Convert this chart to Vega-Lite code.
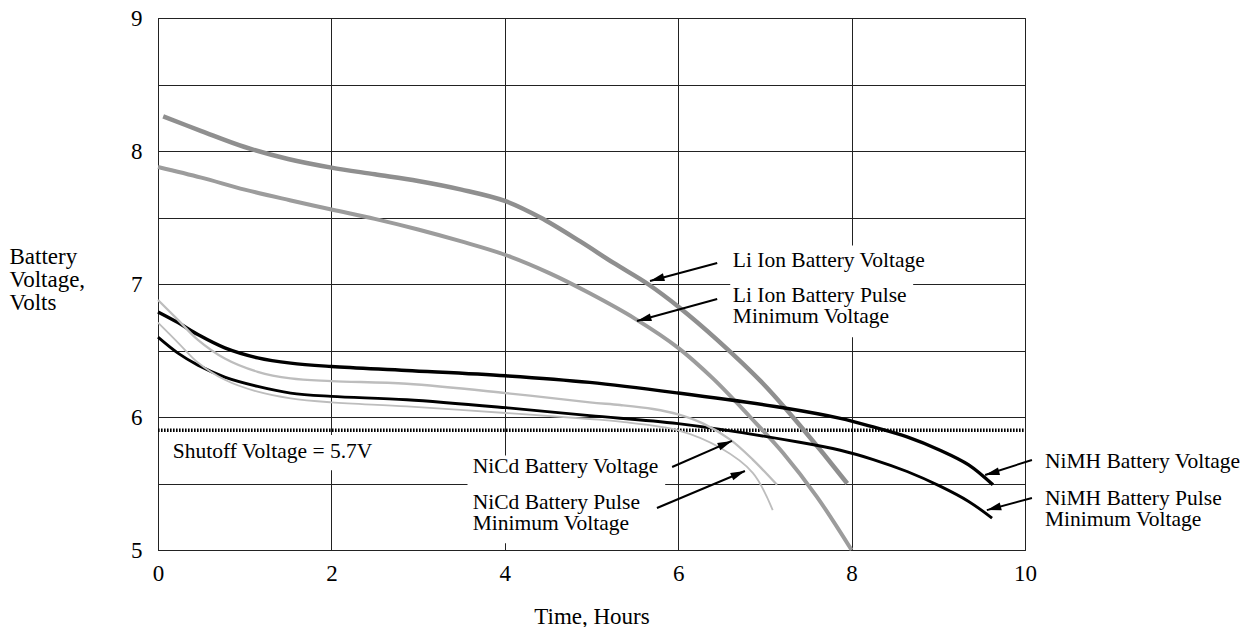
{
  "$schema": "https://vega.github.io/schema/vega-lite/v6.json",
  "width": 867,
  "height": 532,
  "autosize": {"type": "none"},
  "padding": {"left": 158, "top": 18, "right": 227, "bottom": 77},
  "background": "white",
  "config": {
    "view": {"stroke": "#222", "strokeWidth": 1},
    "font": "Liberation Serif",
    "axis": {
      "gridColor": "#222", "gridWidth": 1, "gridOpacity": 1,
      "domainColor": "#222", "domainWidth": 1,
      "ticks": false, "tickSize": 0,
      "labelFont": "Liberation Serif", "labelFontSize": 23, "labelColor": "black",
      "titleFont": "Liberation Serif", "titleFontSize": 23, "titleColor": "black", "titleFontWeight": "normal"
    }
  },
  "datasets": {
    "curves": [
      {"series": "Li Ion Battery Voltage", "x": 0.06, "y": 8.26},
      {"series": "Li Ion Battery Voltage", "x": 0.5, "y": 8.15},
      {"series": "Li Ion Battery Voltage", "x": 1.0, "y": 8.03},
      {"series": "Li Ion Battery Voltage", "x": 1.5, "y": 7.94},
      {"series": "Li Ion Battery Voltage", "x": 2.0, "y": 7.875},
      {"series": "Li Ion Battery Voltage", "x": 2.5, "y": 7.825},
      {"series": "Li Ion Battery Voltage", "x": 3.0, "y": 7.775},
      {"series": "Li Ion Battery Voltage", "x": 3.5, "y": 7.71},
      {"series": "Li Ion Battery Voltage", "x": 4.0, "y": 7.625},
      {"series": "Li Ion Battery Voltage", "x": 4.41, "y": 7.50},
      {"series": "Li Ion Battery Voltage", "x": 4.87, "y": 7.32},
      {"series": "Li Ion Battery Voltage", "x": 5.25, "y": 7.16},
      {"series": "Li Ion Battery Voltage", "x": 5.65, "y": 7.00},
      {"series": "Li Ion Battery Voltage", "x": 6.02, "y": 6.82},
      {"series": "Li Ion Battery Voltage", "x": 6.45, "y": 6.58},
      {"series": "Li Ion Battery Voltage", "x": 6.98, "y": 6.25},
      {"series": "Li Ion Battery Voltage", "x": 7.4, "y": 5.94},
      {"series": "Li Ion Battery Voltage", "x": 7.95, "y": 5.5},

      {"series": "Li Ion Battery Pulse Minimum Voltage", "x": 0.0, "y": 7.88},
      {"series": "Li Ion Battery Pulse Minimum Voltage", "x": 0.5, "y": 7.80},
      {"series": "Li Ion Battery Pulse Minimum Voltage", "x": 1.0, "y": 7.71},
      {"series": "Li Ion Battery Pulse Minimum Voltage", "x": 1.52, "y": 7.63},
      {"series": "Li Ion Battery Pulse Minimum Voltage", "x": 2.0, "y": 7.56},
      {"series": "Li Ion Battery Pulse Minimum Voltage", "x": 2.5, "y": 7.49},
      {"series": "Li Ion Battery Pulse Minimum Voltage", "x": 3.0, "y": 7.41},
      {"series": "Li Ion Battery Pulse Minimum Voltage", "x": 3.5, "y": 7.32},
      {"series": "Li Ion Battery Pulse Minimum Voltage", "x": 4.0, "y": 7.22},
      {"series": "Li Ion Battery Pulse Minimum Voltage", "x": 4.52, "y": 7.08},
      {"series": "Li Ion Battery Pulse Minimum Voltage", "x": 4.98, "y": 6.93},
      {"series": "Li Ion Battery Pulse Minimum Voltage", "x": 5.5, "y": 6.74},
      {"series": "Li Ion Battery Pulse Minimum Voltage", "x": 6.0, "y": 6.52},
      {"series": "Li Ion Battery Pulse Minimum Voltage", "x": 6.4, "y": 6.29},
      {"series": "Li Ion Battery Pulse Minimum Voltage", "x": 6.83, "y": 6.0},
      {"series": "Li Ion Battery Pulse Minimum Voltage", "x": 7.21, "y": 5.73},
      {"series": "Li Ion Battery Pulse Minimum Voltage", "x": 7.6, "y": 5.40},
      {"series": "Li Ion Battery Pulse Minimum Voltage", "x": 8.0, "y": 5.0},

      {"series": "NiMH Battery Voltage", "x": 0.0, "y": 6.79},
      {"series": "NiMH Battery Voltage", "x": 0.23, "y": 6.71},
      {"series": "NiMH Battery Voltage", "x": 0.46, "y": 6.62},
      {"series": "NiMH Battery Voltage", "x": 0.77, "y": 6.52},
      {"series": "NiMH Battery Voltage", "x": 1.15, "y": 6.445},
      {"series": "NiMH Battery Voltage", "x": 1.53, "y": 6.405},
      {"series": "NiMH Battery Voltage", "x": 2.0, "y": 6.38},
      {"series": "NiMH Battery Voltage", "x": 2.87, "y": 6.35},
      {"series": "NiMH Battery Voltage", "x": 4.01, "y": 6.31},
      {"series": "NiMH Battery Voltage", "x": 4.98, "y": 6.26},
      {"series": "NiMH Battery Voltage", "x": 6.0, "y": 6.18},
      {"series": "NiMH Battery Voltage", "x": 7.21, "y": 6.07},
      {"series": "NiMH Battery Voltage", "x": 7.87, "y": 5.99},
      {"series": "NiMH Battery Voltage", "x": 8.25, "y": 5.925},
      {"series": "NiMH Battery Voltage", "x": 8.64, "y": 5.85},
      {"series": "NiMH Battery Voltage", "x": 9.02, "y": 5.75},
      {"series": "NiMH Battery Voltage", "x": 9.35, "y": 5.64},
      {"series": "NiMH Battery Voltage", "x": 9.63, "y": 5.49},

      {"series": "NiMH Battery Pulse Minimum Voltage", "x": 0.0, "y": 6.60},
      {"series": "NiMH Battery Pulse Minimum Voltage", "x": 0.23, "y": 6.48},
      {"series": "NiMH Battery Pulse Minimum Voltage", "x": 0.46, "y": 6.39},
      {"series": "NiMH Battery Pulse Minimum Voltage", "x": 0.77, "y": 6.30},
      {"series": "NiMH Battery Pulse Minimum Voltage", "x": 1.15, "y": 6.23},
      {"series": "NiMH Battery Pulse Minimum Voltage", "x": 1.53, "y": 6.18},
      {"series": "NiMH Battery Pulse Minimum Voltage", "x": 2.0, "y": 6.155},
      {"series": "NiMH Battery Pulse Minimum Voltage", "x": 2.87, "y": 6.13},
      {"series": "NiMH Battery Pulse Minimum Voltage", "x": 4.01, "y": 6.07},
      {"series": "NiMH Battery Pulse Minimum Voltage", "x": 4.98, "y": 6.01},
      {"series": "NiMH Battery Pulse Minimum Voltage", "x": 6.0, "y": 5.95},
      {"series": "NiMH Battery Pulse Minimum Voltage", "x": 7.4, "y": 5.81},
      {"series": "NiMH Battery Pulse Minimum Voltage", "x": 7.87, "y": 5.75},
      {"series": "NiMH Battery Pulse Minimum Voltage", "x": 8.25, "y": 5.68},
      {"series": "NiMH Battery Pulse Minimum Voltage", "x": 8.64, "y": 5.59},
      {"series": "NiMH Battery Pulse Minimum Voltage", "x": 9.02, "y": 5.48},
      {"series": "NiMH Battery Pulse Minimum Voltage", "x": 9.35, "y": 5.365},
      {"series": "NiMH Battery Pulse Minimum Voltage", "x": 9.62, "y": 5.24},

      {"series": "NiCd Battery Voltage", "x": 0.0, "y": 6.88},
      {"series": "NiCd Battery Voltage", "x": 0.23, "y": 6.73},
      {"series": "NiCd Battery Voltage", "x": 0.46, "y": 6.58},
      {"series": "NiCd Battery Voltage", "x": 0.77, "y": 6.44},
      {"series": "NiCd Battery Voltage", "x": 1.15, "y": 6.34},
      {"series": "NiCd Battery Voltage", "x": 1.53, "y": 6.29},
      {"series": "NiCd Battery Voltage", "x": 2.0, "y": 6.27},
      {"series": "NiCd Battery Voltage", "x": 2.87, "y": 6.25},
      {"series": "NiCd Battery Voltage", "x": 4.01, "y": 6.18},
      {"series": "NiCd Battery Voltage", "x": 4.98, "y": 6.11},
      {"series": "NiCd Battery Voltage", "x": 5.33, "y": 6.09},
      {"series": "NiCd Battery Voltage", "x": 5.71, "y": 6.06},
      {"series": "NiCd Battery Voltage", "x": 6.0, "y": 6.02},
      {"series": "NiCd Battery Voltage", "x": 6.29, "y": 5.95},
      {"series": "NiCd Battery Voltage", "x": 6.6, "y": 5.83},
      {"series": "NiCd Battery Voltage", "x": 6.86, "y": 5.68},
      {"series": "NiCd Battery Voltage", "x": 7.14, "y": 5.49},

      {"series": "NiCd Battery Pulse Minimum Voltage", "x": 0.0, "y": 6.71},
      {"series": "NiCd Battery Pulse Minimum Voltage", "x": 0.23, "y": 6.56},
      {"series": "NiCd Battery Pulse Minimum Voltage", "x": 0.46, "y": 6.41},
      {"series": "NiCd Battery Pulse Minimum Voltage", "x": 0.77, "y": 6.28},
      {"series": "NiCd Battery Pulse Minimum Voltage", "x": 1.15, "y": 6.19},
      {"series": "NiCd Battery Pulse Minimum Voltage", "x": 1.53, "y": 6.14},
      {"series": "NiCd Battery Pulse Minimum Voltage", "x": 2.0, "y": 6.11},
      {"series": "NiCd Battery Pulse Minimum Voltage", "x": 2.87, "y": 6.08},
      {"series": "NiCd Battery Pulse Minimum Voltage", "x": 4.01, "y": 6.03},
      {"series": "NiCd Battery Pulse Minimum Voltage", "x": 4.98, "y": 5.985},
      {"series": "NiCd Battery Pulse Minimum Voltage", "x": 5.33, "y": 5.965},
      {"series": "NiCd Battery Pulse Minimum Voltage", "x": 6.0, "y": 5.90},
      {"series": "NiCd Battery Pulse Minimum Voltage", "x": 6.48, "y": 5.77},
      {"series": "NiCd Battery Pulse Minimum Voltage", "x": 6.86, "y": 5.58},
      {"series": "NiCd Battery Pulse Minimum Voltage", "x": 7.09, "y": 5.30}
    ],
    "boxes": [
      {"x": 0.05, "x2": 3.9, "y": 5.6, "y2": 5.865},
      {"x": 3.57, "x2": 5.85, "y": 5.05, "y2": 5.71},
      {"x": 6.6, "x2": 8.71, "y": 6.6, "y2": 7.29}
    ],
    "shutoff": [{"x": 0, "x2": 10, "y": 5.9}],
    "arrows": [
      {"x": 6.45, "y": 7.158, "x2": 5.675, "y2": 7.023},
      {"x": 6.45, "y": 6.887, "x2": 5.525, "y2": 6.722},
      {"x": 5.93, "y": 5.624, "x2": 6.62, "y2": 5.82},
      {"x": 5.755, "y": 5.316, "x2": 6.77, "y2": 5.594},
      {"x": 10.08, "y": 5.677, "x2": 9.54, "y2": 5.564},
      {"x": 10.08, "y": 5.391, "x2": 9.56, "y2": 5.3}
    ],
    "heads": [
      {"x": 5.675, "y": 7.023, "dir": "left"},
      {"x": 5.525, "y": 6.722, "dir": "left"},
      {"x": 6.62, "y": 5.82, "dir": "right"},
      {"x": 6.77, "y": 5.594, "dir": "right"},
      {"x": 9.54, "y": 5.564, "dir": "left"},
      {"x": 9.56, "y": 5.3, "dir": "left"}
    ],
    "labels": [
      {"label": "Shutoff Voltage = 5.7V", "x": 0.17, "y": 5.69},
      {"label": "NiCd Battery Voltage", "x": 3.63, "y": 5.579},
      {"label": "NiCd Battery Pulse\nMinimum Voltage", "x": 3.63, "y": 5.308},
      {"label": "Li Ion Battery Voltage", "x": 6.63, "y": 7.128},
      {"label": "Li Ion Battery Pulse\nMinimum Voltage", "x": 6.63, "y": 6.865},
      {"label": "NiMH Battery Voltage", "x": 10.23, "y": 5.617},
      {"label": "NiMH Battery Pulse\nMinimum Voltage", "x": 10.23, "y": 5.338}
    ]
  },
  "encoding": {
    "x": {"field": "x", "type": "quantitative", "scale": {"domain": [0, 10], "nice": false},
      "axis": {"title": "Time, Hours", "values": [0, 2, 4, 6, 8, 10], "format": "d", "labelPadding": 30, "labelBaseline": "alphabetic", "titleBaseline": "alphabetic", "titleY": 73, "labelFlush": false}},
    "y": {"field": "y", "type": "quantitative", "scale": {"domain": [5, 9], "nice": false, "zero": false},
      "axis": {"title": ["Battery", "Voltage,", "Volts"], "values": [5, 5.5, 6, 6.5, 7, 7.5, 8, 8.5, 9],
        "labelExpr": "datum.value % 1 == 0 ? format(datum.value, 'd') : ''", "labelPadding": 16, "labelFlush": false,
        "titleAngle": 0, "titleAlign": "left", "titleBaseline": "alphabetic", "titleX": -149, "titleY": 245, "titleLineHeight": 23}}
  },
  "layer": [
    {
      "data": {"name": "boxes"},
      "mark": {"type": "rect", "fill": "white", "strokeWidth": 0},
      "encoding": {"x2": {"field": "x2"}, "y2": {"field": "y2"}}
    },
    {
      "data": {"name": "shutoff"},
      "mark": {"type": "rule", "color": "black", "strokeWidth": 3.5, "strokeDash": [1.6, 1.4]},
      "encoding": {"x2": {"field": "x2"}}
    },
    {
      "data": {"name": "curves"},
      "mark": {"type": "line", "interpolate": "catmull-rom", "strokeCap": "butt"},
      "encoding": {
        "detail": {"field": "series", "type": "nominal"},
        "color": {"field": "series", "type": "nominal", "legend": null,
          "scale": {"domain": ["Li Ion Battery Voltage", "Li Ion Battery Pulse Minimum Voltage", "NiMH Battery Voltage", "NiMH Battery Pulse Minimum Voltage", "NiCd Battery Voltage", "NiCd Battery Pulse Minimum Voltage"],
            "range": ["#8f8f8f", "#9c9c9c", "#000000", "#000000", "#bdbdbd", "#bdbdbd"]}},
        "strokeWidth": {"field": "series", "type": "nominal", "legend": null,
          "scale": {"domain": ["Li Ion Battery Voltage", "Li Ion Battery Pulse Minimum Voltage", "NiMH Battery Voltage", "NiMH Battery Pulse Minimum Voltage", "NiCd Battery Voltage", "NiCd Battery Pulse Minimum Voltage"],
            "range": [4.5, 1.8, 4.5, 1.8, 4.5, 1.8]}}
      }
    },
    {
      "data": {"name": "arrows"},
      "mark": {"type": "rule", "color": "black", "strokeWidth": 2},
      "encoding": {"x2": {"field": "x2"}, "y2": {"field": "y2"}}
    },
    {
      "data": {"name": "heads"},
      "mark": {"type": "point", "shape": "M0,0L-0.5,1.8L0.5,1.8Z", "filled": true, "fill": "black", "strokeWidth": 0, "opacity": 1, "size": 256},
      "encoding": {
        "angle": {"field": "dir", "type": "nominal", "legend": null, "scale": {"domain": ["left", "right"], "range": [255, 67]}}
      }
    },
    {
      "data": {"name": "labels"},
      "mark": {"type": "text", "align": "left", "baseline": "alphabetic", "font": "Liberation Serif", "fontSize": 21.5, "lineHeight": 21, "lineBreak": "\n", "color": "black"},
      "encoding": {"text": {"field": "label", "type": "nominal"}}
    }
  ]
}
